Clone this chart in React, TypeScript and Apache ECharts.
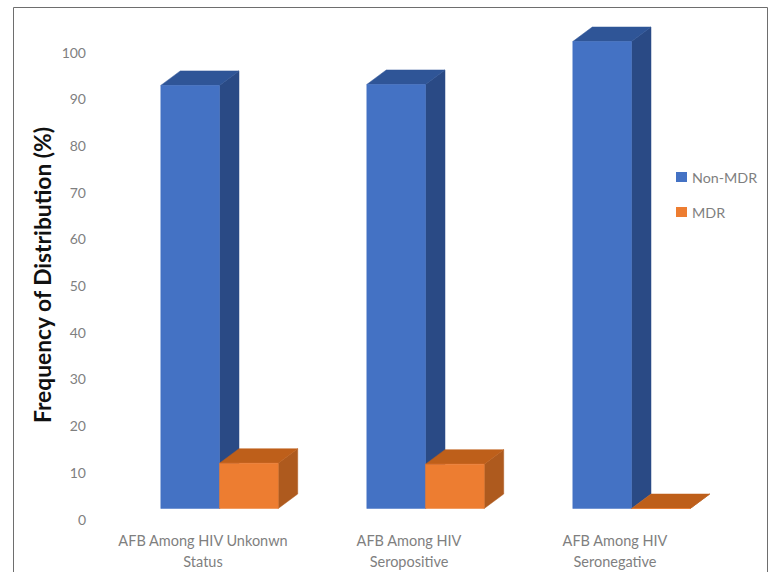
import React, { useEffect, useRef } from "react";
import * as echarts from "echarts";

const categories = ["AFB Among HIV Unkonwn\nStatus", "AFB Among HIV\nSeropositive", "AFB Among HIV\nSeronegative"];
const nonMdr = [90.6, 90.8, 100];
const mdr = [9.7, 9.5, 0];
const FONT = "Lato, 'Open Sans', sans-serif";

// Oblique projection of the box columns: floor offset from the axis, and the depth of each box.
const FLOOR_DX = 16.5;
const FLOOR_DY = -10.5;
const DEPTH_DX = 19.5;
const DEPTH_DY = -14.5;
const BAR_SHARE = 0.285;

function boxRenderer(side: -1 | 1, faces: { front: string; side: string; top: string }) {
  return (_params: any, api: any) => {
    const cat = api.value(0);
    const val = api.value(1);
    const base = api.coord([cat, 0]);
    const top = api.coord([cat, val]);
    const w = api.size([1, 0])[0] * BAR_SHARE;
    const cx = base[0] + FLOOR_DX;
    const x0 = side < 0 ? cx - w : cx;
    const x1 = x0 + w;
    const yb = base[1] + FLOOR_DY;
    const yt = top[1] + FLOOR_DY;
    const poly = (points: number[][], fill: string) => ({
      type: "polygon",
      shape: { points },
      style: { fill, stroke: fill, lineWidth: 0.5 },
    });
    return {
      type: "group",
      children: [
        poly([[x1, yb], [x1 + DEPTH_DX, yb + DEPTH_DY], [x1 + DEPTH_DX, yt + DEPTH_DY], [x1, yt]], faces.side),
        poly([[x0, yt], [x1, yt], [x1 + DEPTH_DX, yt + DEPTH_DY], [x0 + DEPTH_DX, yt + DEPTH_DY]], faces.top),
        poly([[x0, yb], [x1, yb], [x1, yt], [x0, yt]], faces.front),
      ],
    };
  };
}

export default function App() {
  const ref = useRef<HTMLDivElement>(null);
  useEffect(() => {
    const chart = echarts.init(ref.current!, undefined, { renderer: "svg" });
    chart.setOption({
      animation: false,
      backgroundColor: "#ffffff",
      graphic: [
        {
          type: "polyline",
          silent: true,
          shape: { points: [[13.5, 572], [13.5, 7.5], [767.5, 7.5], [767.5, 572]] },
          style: { fill: "none", stroke: "#6e6e6e", lineWidth: 1 },
        },
        {
          type: "text",
          silent: true,
          x: 42,
          y: 275,
          rotation: Math.PI / 2,
          style: {
            text: "Frequency of Distribution (%)",
            fontFamily: FONT,
            fontSize: 22.8,
            fontWeight: "bold",
            fill: "#111111",
            align: "center",
            verticalAlign: "middle",
          },
        },
      ],
      grid: { left: 100, right: 50, top: 52, bottom: 53 },
      legend: {
        orient: "vertical",
        left: 671,
        top: 165,
        itemWidth: 11,
        itemHeight: 10,
        itemGap: 21,
        icon: "rect",
        textStyle: { fontFamily: FONT, fontSize: 14.3, color: "#7f7f7f" },
        data: ["Non-MDR", "MDR"],
      },
      xAxis: {
        type: "category",
        data: categories,
        axisLine: { show: false },
        axisTick: { show: false },
        axisLabel: { fontFamily: FONT, fontSize: 14.5, color: "#7f7f7f", margin: 11, lineHeight: 21, interval: 0 },
      },
      yAxis: {
        type: "value",
        min: 0,
        max: 100,
        interval: 10,
        axisLine: { show: false },
        axisTick: { show: false },
        splitLine: { show: false },
        axisLabel: { fontFamily: FONT, fontSize: 14, color: "#7f7f7f", margin: 14 },
      },
      series: [
        {
          name: "Non-MDR",
          type: "custom",
          itemStyle: { color: "#4472C4" },
          encode: { x: 0, y: 1 },
          data: nonMdr.map((v, i) => [i, v]),
          renderItem: boxRenderer(-1, { front: "#4472C4", side: "#2A4A85", top: "#2F5597" }),
        },
        {
          name: "MDR",
          type: "custom",
          itemStyle: { color: "#ED7D31" },
          encode: { x: 0, y: 1 },
          data: mdr.map((v, i) => [i, v]),
          renderItem: boxRenderer(1, { front: "#ED7D31", side: "#AE5A1E", top: "#BE5F1A" }),
        },
      ],
    });
    return () => chart.dispose();
  }, []);
  return <div ref={ref} style={{ position: "absolute", left: 0, top: 0, width: 768, height: 572 }} />;
}
